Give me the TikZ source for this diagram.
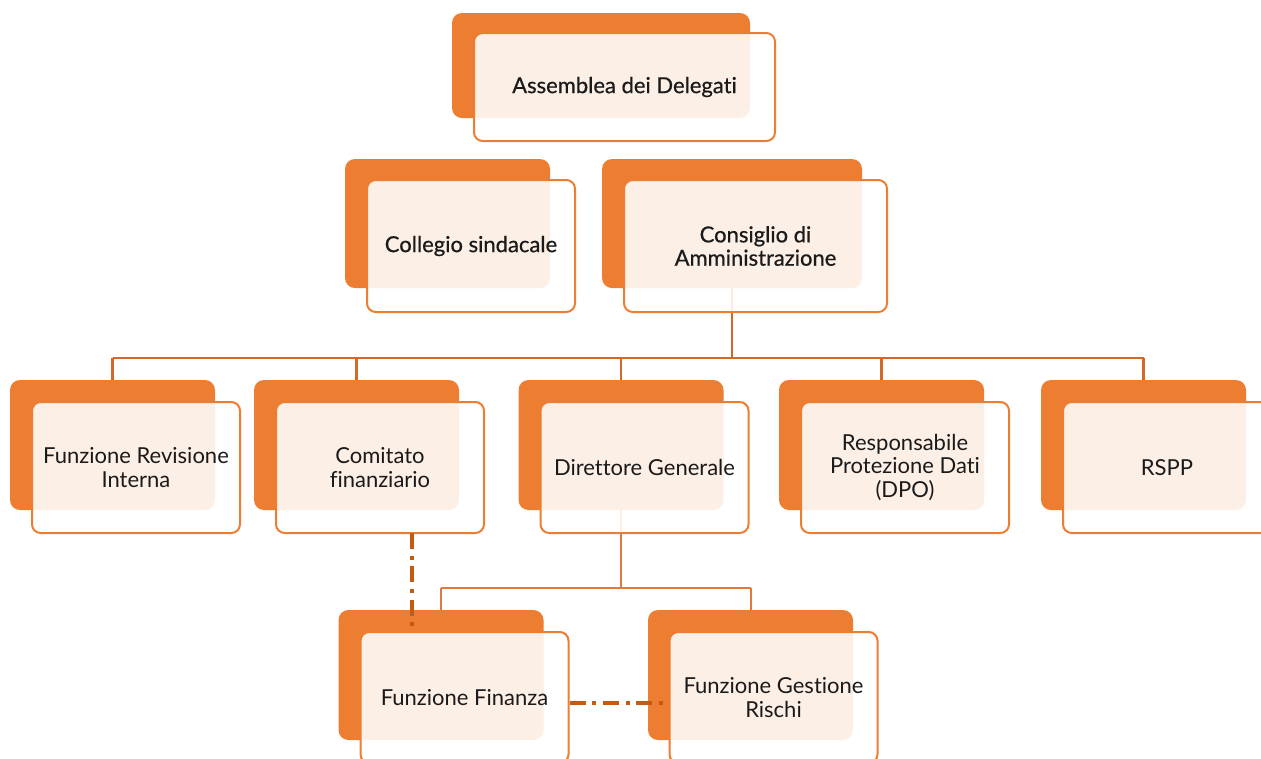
\documentclass[tikz,border=0pt]{standalone}
\usepackage{fontspec}
\setmainfont{Lato}[Ligatures=NoCommon]
\newfontfamily\headfont{Lato}[FakeBold=0.6, Ligatures=NoCommon]
\usetikzlibrary{calc}

\definecolor{boxorange}{HTML}{ED7D31}
\definecolor{linkdark}{HTML}{C55A11}
\definecolor{linkmid}{HTML}{D2692A}
\definecolor{linklight}{HTML}{E2793A}
\definecolor{txt}{HTML}{1A1A1A}

\tikzset{
  backbox/.style={rectangle, rounded corners=7.5pt, fill=boxorange, draw=none,
    inner sep=0pt, minimum width=153.75pt, minimum height=97.5pt},
  frontbox/.style={rectangle, rounded corners=6.5pt, fill=white, fill opacity=0.88,
    text opacity=1, draw=boxorange, draw opacity=1, line width=1.5pt, inner sep=0pt,
    minimum width=156pt, minimum height=98.25pt, align=center, text=txt,
    font=\fontsize{16.5}{17.5}\selectfont},
  headbox/.style={frontbox, font=\headfont\fontsize{16.5}{17.5}\selectfont},
  link/.style={draw=linkmid, line width=1.6pt},
  sublink/.style={draw=linklight, line width=1.5pt},
  dotlink/.style={draw=linkdark, line width=2.3pt,
    dash pattern=on 12pt off 5pt on 3pt off 5pt}
}

\begin{document}
\begin{tikzpicture}[x=0.75pt, y=-0.75pt]
  \useasboundingbox (0,0) rectangle (1261,758);

  % back plates
  \node[backbox, minimum width=223.5pt, minimum height=78.75pt] (asb-b) at (601,65.5) {};
  \node[backbox, minimum height=96.75pt] (col-b) at (447.5,223.5) {};
  \node[backbox, minimum width=195pt, minimum height=96.75pt] (con-b) at (732,223.5) {};
  \node[backbox] (rev-b) at (112.5,445) {};
  \node[backbox] (com-b) at (356.5,445) {};
  \node[backbox] (dir-b) at (621,445) {};
  \node[backbox] (dpo-b) at (881.5,445) {};
  \node[backbox] (rsp-b) at (1143.5,445) {};
  \node[backbox] (fin-b) at (441,675) {};
  \node[backbox] (ris-b) at (750.5,675) {};

  % reporting lines
  \coordinate (bus) at (0,358);
  \coordinate (subbus) at (0,588);
  \draw[link, line width=2.2pt] (con-b.south) -- (con-b.south |- bus);
  \draw[link] (rev-b.north |- bus) -- (rsp-b.north |- bus);
  \draw[link, line width=2.2pt] (dir-b.north |- bus) -- (con-b.south |- bus);
  \foreach \n in {rev,com,dir,dpo,rsp}
    \draw[link] (\n-b.north |- bus) -- (\n-b.north);
  \draw[sublink] (dir-b.south) -- (dir-b.south |- subbus);
  \draw[sublink] (fin-b.north |- subbus) -- (ris-b.north |- subbus);
  \foreach \n in {fin,ris}
    \draw[sublink] (\n-b.north |- subbus) -- (\n-b.north);

  % front cards with labels
  \node[headbox, minimum width=225.75pt, minimum height=81pt] (asb) at (624.5,87) {Assemblea dei Delegati};
  \node[headbox, minimum height=99pt] (col) at (471,246) {Collegio sindacale};
  \node[headbox, minimum width=197.25pt, minimum height=99pt] (con) at (755.5,246) {Consiglio di\\Amministrazione};
  \node[frontbox] (rev) at (136,467.5) {Funzione Revisione\\Interna};
  \node[frontbox] (com) at (380,467.5) {Comitato\\finanziario};
  \node[frontbox] (dir) at (644.5,467.5) {Direttore Generale};
  \node[frontbox] (dpo) at (905,467.5) {Responsabile\\Protezione Dati\\(DPO)};
  \node[frontbox] (rsp) at (1167,467.5) {RSPP};
  \node[frontbox] (fin) at (464.5,697.5) {Funzione Finanza};
  \node[frontbox] (ris) at (773.5,697.5) {Funzione Gestione\\Rischi};

  % functional (dash-dot) links
  \coordinate (comfoot) at (412,533);
  \coordinate (finside) at ($(fin.east)+(0,5.5)$);
  \draw[dotlink] (comfoot) -- (comfoot |- fin.north);
  \draw[dotlink] (finside) -- (finside -| ris.west);
\end{tikzpicture}
\end{document}
